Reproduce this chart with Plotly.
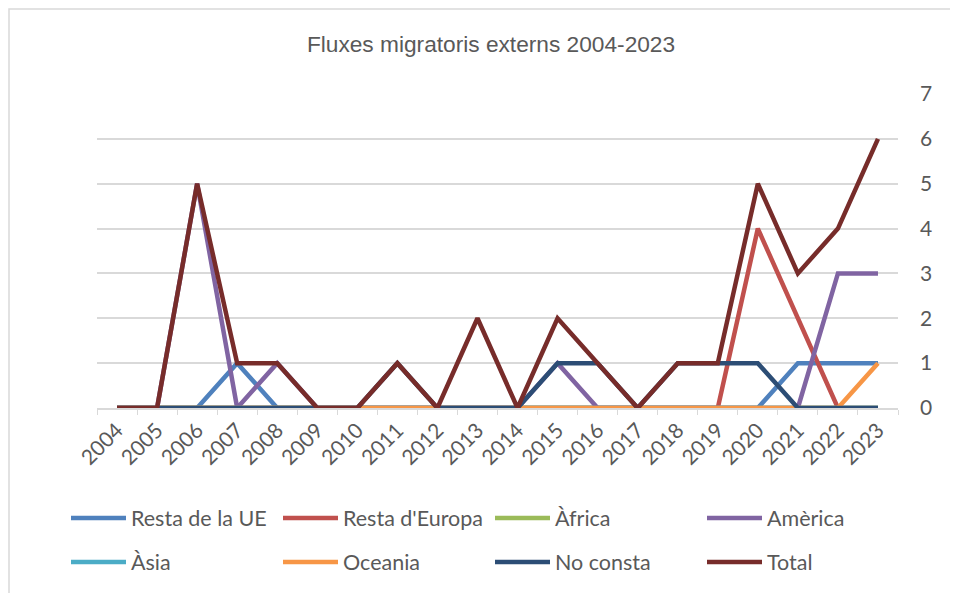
import plotly.graph_objects as go

years = [str(y) for y in range(2004, 2024)]
resta_ue      = [0,0,0,1,0,0,0,0,0,0,0,0,0,0,0,0,0,1,1,1]
resta_europa  = [0,0,0,0,0,0,0,0,0,0,0,0,0,0,0,0,4,2,0,0]
africa        = [0,0,0,0,0,0,0,0,0,0,0,0,0,0,0,0,0,0,0,0]
america       = [0,0,5,0,1,0,0,0,0,0,0,1,0,0,0,0,0,0,3,3]
asia          = [0,0,0,0,0,0,0,0,0,0,0,0,0,0,0,0,0,0,0,0]
oceania       = [0,0,0,0,0,0,0,0,0,0,0,0,0,0,0,0,0,0,0,1]
no_consta     = [0,0,0,0,0,0,0,1,0,0,0,1,1,0,1,1,1,0,0,0]
total         = [0,0,5,1,1,0,0,1,0,2,0,2,1,0,1,1,5,3,4,6]

series = [
    ("Resta de la UE", resta_ue, "#4F81BD"),
    ("Resta d'Europa", resta_europa, "#C0504D"),
    ("Àfrica", africa, "#9BBB59"),
    ("Amèrica", america, "#8064A2"),
    ("Àsia", asia, "#4BACC6"),
    ("Oceania", oceania, "#F79646"),
    ("No consta", no_consta, "#2C4D75"),
    ("Total", total, "#772C2A"),
]

fig = go.Figure()
for i, (name, vals, col) in enumerate(series):
    fig.add_trace(go.Scatter(x=years, y=vals, name=name, mode="lines",
                             legend="legend" if i < 4 else "legend2",
                             line=dict(color=col, width=4.5)))

font_main = "Lato, 'Open Sans', sans-serif"
leg_common = dict(orientation="h", x=(66-97)/801, xanchor="left", yanchor="middle",
                  entrywidth=142, entrywidthmode="pixels", itemwidth=55,
                  font=dict(family=font_main, size=21.5, color="#595959"),
                  traceorder="normal", bgcolor="rgba(0,0,0,0)")
# page body has an 8px margin, so the figure is 950x585 drawn at (8, 8)
fig.update_layout(
    width=950, height=585,
    margin=dict(l=89, r=60, t=86, b=185, autoexpand=False),
    paper_bgcolor="white", plot_bgcolor="white",
    title=dict(text="Fluxes migratoris externs 2004-2023", x=(491-8)/950, xanchor="center",
               y=1 - (44-8)/585, yanchor="middle",
               font=dict(family="'Liberation Sans', Arial, sans-serif", size=22.7, color="#595959")),
    showlegend=True,
    legend=dict(y=(408-518)/314, **leg_common),
    legend2=dict(y=(408-562)/314, **leg_common),
    xaxis=dict(type="category", range=[-0.5, 19.5], tickangle=-45, automargin=False,
               showline=True, linecolor="#D9D9D9", linewidth=1.5,
               ticks="outside", tickson="boundaries", ticklen=5, tickcolor="#D9D9D9",
               showgrid=False, tickfont=dict(family=font_main, size=21, color="#595959")),
    yaxis=dict(range=[0, 7], dtick=1, side="right", showgrid=True, gridcolor="#D9D9D9",
               gridwidth=1.5, zeroline=False, showline=False, ticks="", automargin=False,
               ticklabelstandoff=21,
               tickfont=dict(family=font_main, size=21, color="#595959")),
    shapes=[dict(type="rect", xref="paper", yref="paper",
                 x0=(9-97)/801, x1=1.3, y0=-1.0, y1=(408-9)/314,
                 line=dict(color="#D9D9D9", width=1.5), layer="below")],
)

fig.write_html("out.html")
